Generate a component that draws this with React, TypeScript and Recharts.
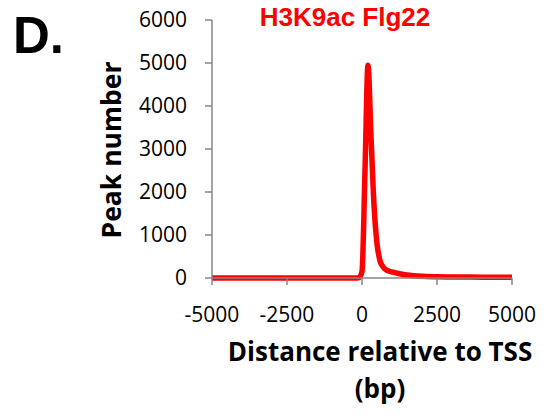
import { LineChart, Line, XAxis, YAxis } from 'recharts'

// ── Data ─────────────────────────────────────────────────
const distances = [-5000, -4000, -3000, -2000, -1000, -300, -200, -100, 0, 100, 200, 300, 400, 500, 600, 700, 800, 1000, 1250, 1500, 2000, 2500, 3000, 4000, 5000]
const peaks     = [0, 0, 0, 0, 0, 0, 0, 10, 150, 2500, 4950, 3300, 1700, 800, 400, 260, 190, 140, 100, 70, 40, 30, 25, 20, 15]

const xTicks = [-5000, -2500, 0, 2500, 5000]
const yTicks = [0, 1000, 2000, 3000, 4000, 5000, 6000]

const data = distances.map((d, i) => ({ d, n: peaks[i] }))

const AXIS = '#868686'
const TICK_FONT = { fontSize: 21, fill: '#000', fontFamily: '"Open Sans", sans-serif' }

export default function App() {
  return (
    <div style={{ position: 'absolute', left: 0, top: 0, width: 550, height: 419, background: '#fff', overflow: 'hidden' }}>
      <LineChart width={550} height={419} data={data} margin={{ top: 20, right: 38, bottom: 81, left: 132 }}>
        <XAxis
          dataKey="d" type="number" domain={[-5000, 5000]} ticks={xTicks}
          stroke={AXIS} strokeWidth={1.5} tickSize={7} tickMargin={22} height={60}
          tick={TICK_FONT} interval={0}
        />
        <YAxis
          type="number" domain={[0, 6000]} ticks={yTicks}
          stroke={AXIS} strokeWidth={1.5} tickSize={7} tickMargin={18} width={80}
          tick={TICK_FONT} interval={0}
        />
        <Line
          type="monotone" dataKey="n" stroke="#ff0000" strokeWidth={5.5}
          dot={false} isAnimationActive={false} strokeLinejoin="round"
        />
      </LineChart>

      <div style={{ position: 'absolute', left: 13, top: 6, fontFamily: '"Liberation Sans", Arial, sans-serif', fontWeight: 700, fontSize: 51, lineHeight: '60px', color: '#000' }}>
        D.
      </div>
      <div style={{ position: 'absolute', left: 245, width: 200, top: 2, textAlign: 'center', fontFamily: '"Liberation Sans", Arial, sans-serif', fontWeight: 700, fontSize: 26, lineHeight: '30px', color: '#ff0000' }}>
        H3K9ac Flg22
      </div>
      <div style={{ position: 'absolute', left: 111, top: 150, width: 0, height: 0 }}>
        <div style={{ position: 'absolute', transform: 'translate(-50%, -50%) rotate(-90deg)', whiteSpace: 'nowrap', fontFamily: '"Open Sans", sans-serif', fontWeight: 700, fontSize: 26.5, lineHeight: '30px', color: '#000' }}>
          Peak number
        </div>
      </div>
      <div style={{ position: 'absolute', left: 180, width: 400, top: 333, textAlign: 'center', fontFamily: '"Open Sans", sans-serif', fontWeight: 700, fontSize: 26, lineHeight: '37px', color: '#000' }}>
        Distance relative to TSS<br />(bp)
      </div>
    </div>
  )
}
